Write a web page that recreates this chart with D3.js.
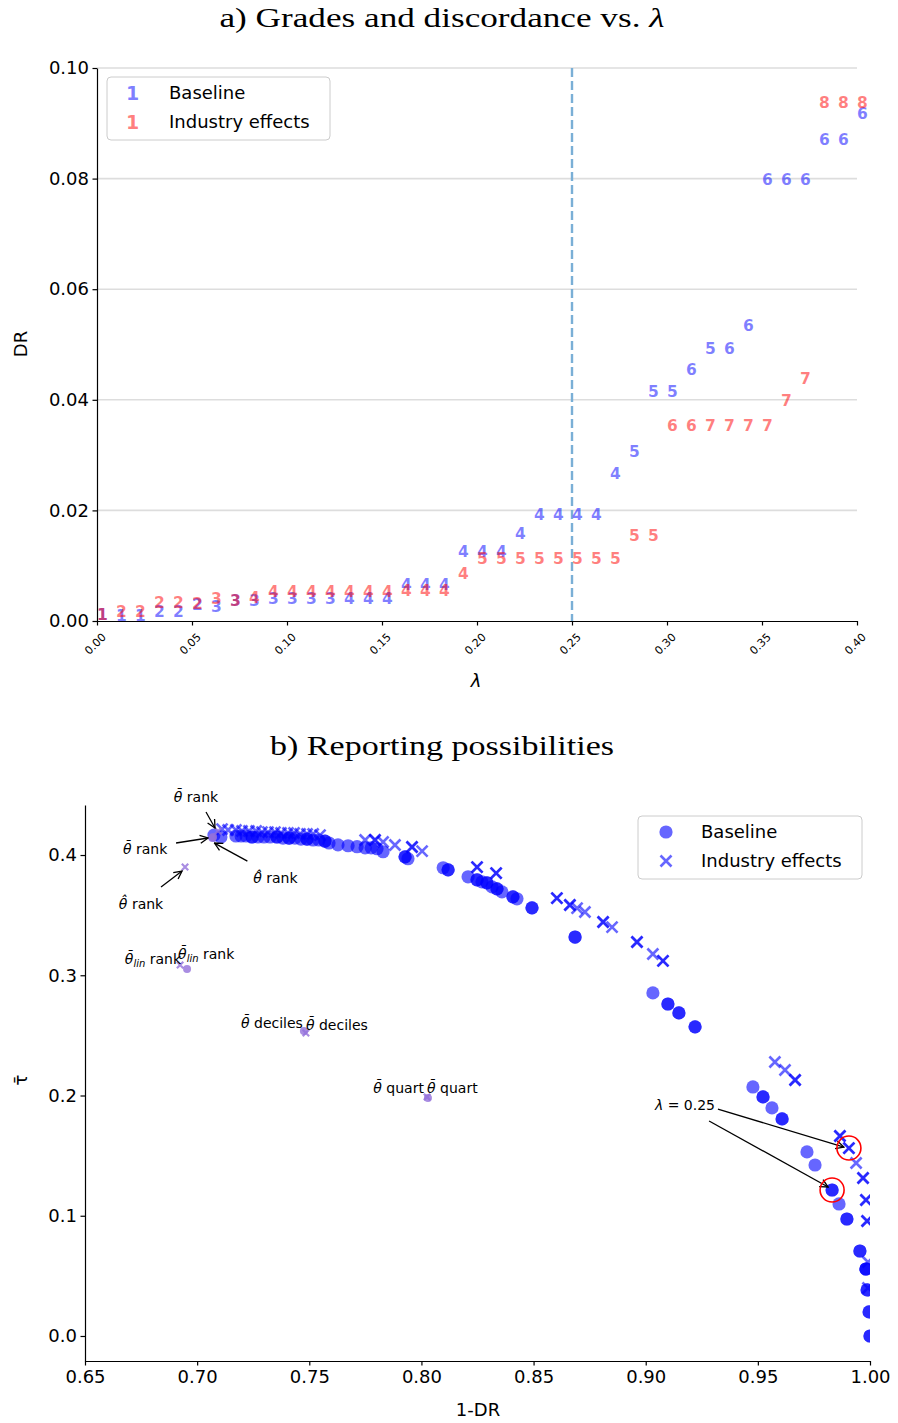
<!DOCTYPE html>
<html><head><meta charset="utf-8">
<script src="https://cdn.jsdelivr.net/npm/d3@7"></script>
<style>body{margin:0;background:#fff} svg text{font-family:"DejaVu Sans",sans-serif}</style>
</head><body><svg id="c" width="898" height="1423"></svg>
<script>
// ---------- Panel a data ----------
const lambdas = [0.00,0.01,0.02,0.03,0.04,0.05,0.06,0.07,0.08,0.09,0.10,0.11,0.12,0.13,0.14,0.15,0.16,0.17,0.18,0.19,0.20,
                 0.21,0.22,0.23,0.24,0.25,0.26,0.27,0.28,0.29,0.30,0.31,0.32,0.33,0.34,0.35,0.36,0.37,0.38,0.39,0.40];
const gradesBaseline = [1,1,1,2,2,2,3,3,3,3,3,3,3,4,4,4,4,4,4,4,4,4,4,4,4,4,4,4,5,5,5,6,5,6,6,6,6,6,6,6,6];
const drBaseline = [0.0012,0.0010,0.0010,0.0018,0.0018,0.0030,0.0027,0.0038,0.0038,0.0040,0.0040,0.0040,0.0040,0.0040,0.0040,0.0040,
                    0.0067,0.0067,0.0067,0.0126,0.0126,0.0126,0.0158,0.0192,0.0192,0.0192,0.0192,0.0266,0.0306,0.0415,0.0415,
                    0.0455,0.0493,0.0493,0.0535,0.0799,0.0799,0.0799,0.0870,0.0870,0.0917];
const gradesIndustry = [1,2,2,2,2,2,3,3,4,4,4,4,4,4,4,4,4,4,4,4,5,5,5,5,5,5,5,5,5,5,6,6,7,7,7,7,7,7,8,8,8];
const drIndustry = [0.0012,0.0018,0.0018,0.0033,0.0033,0.0031,0.0040,0.0038,0.0042,0.0054,0.0054,0.0054,0.0054,0.0054,0.0054,0.0054,
                    0.0056,0.0056,0.0056,0.0086,0.0113,0.0113,0.0113,0.0113,0.0113,0.0113,0.0113,0.0113,0.0154,0.0154,0.0354,
                    0.0354,0.0354,0.0354,0.0354,0.0354,0.0399,0.0439,0.0938,0.0938,0.0938];
const aXTicks = [0.00,0.05,0.10,0.15,0.20,0.25,0.30,0.35,0.40];
const aYTicks = [0.00,0.02,0.04,0.06,0.08,0.10];
const lambdaMarked = 0.25;
const seriesNames = ["Baseline","Industry effects"];

// ---------- Panel b data ----------
const baseX = [0.7075,0.7106,0.7173,0.7196,0.7218,0.7245,0.7245,0.7271,0.7298,0.7325,0.7356,0.7356,0.7383,0.7410,0.7410,0.7436,0.7463,0.7490,0.7490,
               0.7517,0.7543,0.7570,0.7570,0.7588,0.7628,0.7673,0.7713,0.7749,0.7776,0.7802,0.7829,0.7927,0.7927,0.7940,0.8097,0.8119,0.8119,
               0.8208,0.8248,0.8248,0.8270,0.8292,0.8292,0.8315,0.8337,0.8337,0.8359,0.8408,0.8408,0.8426,0.8493,0.8493,0.8685,0.8685,
               0.9032,0.9099,0.9099,0.9148,0.9148,0.9220,0.9220,0.9478,0.9523,0.9523,0.9563,0.9608,0.9608,0.9719,0.9755,0.9831,0.9831,
               0.9862,0.9897,0.9897,0.9955,0.9955,0.9982,0.9982,0.9982,0.9987,0.9987,0.9996,0.9996,1.0000,1.0000];
const baseY = [0.4166,0.4150,0.4158,0.4158,0.4158,0.4150,0.4150,0.4150,0.4150,0.4150,0.4150,0.4150,0.4141,0.4141,0.4141,0.4141,0.4133,0.4133,0.4133,
               0.4125,0.4125,0.4116,0.4116,0.4100,0.4085,0.4077,0.4069,0.4060,0.4060,0.4052,0.4027,0.3985,0.3985,0.3969,0.3894,0.3877,0.3877,
               0.3819,0.3794,0.3794,0.3777,0.3769,0.3769,0.3735,0.3719,0.3719,0.3694,0.3652,0.3652,0.3636,0.3561,0.3561,0.3318,0.3318,
               0.2853,0.2761,0.2761,0.2687,0.2687,0.2571,0.2571,0.2071,0.1988,0.1988,0.1897,0.1805,0.1805,0.1531,0.1422,0.1214,0.1214,
               0.1098,0.0973,0.0973,0.0707,0.0707,0.0557,0.0557,0.0557,0.0383,0.0383,0.0200,0.0200,0.0000,0.0000];
const indX = [0.7111,0.7138,0.7173,0.7200,0.7231,0.7263,0.7289,0.7316,0.7347,0.7374,0.7405,0.7432,0.7459,0.7490,0.7517,0.7548,
              0.7749,0.7793,0.7793,0.7829,0.7882,0.7958,0.7958,0.8003,0.8248,0.8248,0.8333,0.8333,0.8604,0.8604,0.8662,0.8662,0.8694,0.8729,
              0.8810,0.8810,0.8850,0.8961,0.8961,0.9032,0.9077,0.9077,0.9576,0.9621,0.9666,0.9666,0.9866,0.9866,0.9906,0.9906,0.9938,
              0.9969,0.9969,0.9982,0.9982,0.9987,0.9987,0.9991,0.9991];
const indY = [0.4216,0.4208,0.4208,0.4200,0.4200,0.4200,0.4191,0.4191,0.4191,0.4183,0.4183,0.4183,0.4175,0.4175,0.4175,0.4166,
              0.4125,0.4125,0.4125,0.4108,0.4083,0.4067,0.4067,0.4033,0.3900,0.3900,0.3850,0.3850,0.3642,0.3642,0.3584,0.3584,0.3559,0.3526,
              0.3443,0.3443,0.3401,0.3277,0.3277,0.3177,0.3119,0.3119,0.2279,0.2212,0.2129,0.2129,0.1663,0.1663,0.1563,0.1563,0.1439,
              0.1314,0.1314,0.1131,0.1131,0.0956,0.0956,0.0615,0.0399];
// alternative reporting methods (label, baseline point, industry-effects point)
const altMethods = ["θ̄ rank","θ̂ rank","θ̄lin rank","θ̄ deciles","θ̄ quart"];
const altBaseX = [0.7071,0.7068,0.6955,0.7476,0.8029];
const altBaseY = [0.4150,0.4141,0.3052,0.2536,0.1979];
const altIndX  = [0.7093,0.6946,0.6924,0.7485,0.8025];
const altIndY  = [0.4200,0.3900,0.3085,0.2520,0.1988];
const highlightLabel = "λ = 0.25";
const highlightBase = [0.9831,0.1214];
const highlightInd = [0.9906,0.1563];
const bXTicks = [0.65,0.70,0.75,0.80,0.85,0.90,0.95,1.00];
const bYTicks = [0.0,0.1,0.2,0.3,0.4];

// ---------- drawing ----------
const svg = d3.select('#c');
const FS = 18;
const defs = svg.append('defs');
defs.append('marker').attr('id','arr').attr('viewBox','0 0 10 10').attr('refX',9).attr('refY',5)
  .attr('markerWidth',10).attr('markerHeight',10).attr('markerUnits','userSpaceOnUse').attr('orient','auto')
  .append('path').attr('d','M1,1 L9,5 L1,9').attr('fill','none').attr('stroke','#000').attr('stroke-width',1.3);
defs.append('clipPath').attr('id','clipb').append('rect').attr('x',85).attr('y',805).attr('width',785).attr('height',556);

function title(txt, sym, y, len){
  const t = svg.append('text').attr('x',442).attr('y',y).attr('text-anchor','middle')
    .style('font-family','"Liberation Serif","DejaVu Serif",serif').style('font-size','28px')
    .attr('textLength',len).attr('lengthAdjust','spacingAndGlyphs');
  t.append('tspan').text(txt);
  if(sym) t.append('tspan').style('font-style','italic').text(sym);
}
title('a) Grades and discordance vs. ','λ',27,445);
title('b) Reporting possibilities',null,755,344);

// ----- Panel a -----
const xa = d3.scaleLinear().domain([0,0.4]).range([97,857]);
const ya = d3.scaleLinear().domain([0,0.1]).range([621,68]);
const ga = svg.append('g');
ga.selectAll('line.grid').data(aYTicks.filter(d=>d>0)).join('line')
  .attr('x1',xa(0)).attr('x2',xa(0.4)).attr('y1',d=>ya(d)).attr('y2',d=>ya(d))
  .attr('stroke','#dddddd').attr('stroke-width',1.6);
ga.append('line').attr('x1',xa(lambdaMarked)).attr('x2',xa(lambdaMarked)).attr('y1',ya(0.1)).attr('y2',ya(0))
  .attr('stroke','#7aafd6').attr('stroke-width',2.4).attr('stroke-dasharray','9,4');

const axLa = ga.append('g').attr('transform',`translate(${xa(0)},0)`)
  .call(d3.axisLeft(ya).tickValues(aYTicks).tickFormat(d3.format('.2f')).tickSize(4.5).tickSizeOuter(0));
axLa.selectAll('text').style('font-size',FS+'px').attr('x',-8);
const axBa = ga.append('g').attr('transform',`translate(0,${ya(0)})`)
  .call(d3.axisBottom(xa).tickValues(aXTicks).tickFormat(d3.format('.2f')).tickSize(4.5).tickSizeOuter(0));
axBa.selectAll('text').style('font-size','11px').attr('y',0).attr('dy',0)
  .attr('text-anchor','middle').attr('dominant-baseline','central')
  .attr('transform','translate(-2,23) rotate(-45)');
[axLa,axBa].forEach(a=>{a.selectAll('path,line').attr('stroke','#000').attr('stroke-width',1.2);});

function gradeText(g, grades, drs, col){
  g.selectAll(null).data(lambdas.map((l,i)=>({l, g:grades[i], d:drs[i]}))).join('text')
    .attr('x',d=>xa(d.l)).attr('y',d=>ya(d.d)).attr('dy','0.36em')
    .style('font-size','15.5px').style('font-weight','bold').attr('fill',col).attr('fill-opacity',0.5)
    .text(d=>d.g);
}
gradeText(ga, gradesBaseline, drBaseline, 'blue');
gradeText(ga, gradesIndustry, drIndustry, 'red');

// legend a
const la = svg.append('g');
la.append('rect').attr('x',107).attr('y',77).attr('width',223).attr('height',63).attr('rx',4)
  .attr('fill','#fff').attr('fill-opacity',0.8).attr('stroke','#cccccc');
[['blue',93],['red',122]].forEach(([c,y],i)=>{
  la.append('text').attr('x',126).attr('y',y).attr('dy','0.36em').style('font-size','19px').style('font-weight','bold')
    .attr('fill',c).attr('fill-opacity',0.5).text('1');
  la.append('text').attr('x',169).attr('y',y).attr('dy','0.36em').style('font-size',FS+'px').text(seriesNames[i]);
});
svg.append('text').attr('x',476).attr('y',687).attr('text-anchor','middle').style('font-size',FS+'px').style('font-style','italic').text('λ');
svg.append('text').attr('transform','translate(27,344) rotate(-90)').attr('text-anchor','middle').style('font-size',FS+'px').text('DR');

// ----- Panel b -----
const xb = d3.scaleLinear().domain([0.65,1.0]).range([85,870]);
const yb = d3.scaleLinear().domain([-0.0208,0.4416]).range([1361,805]);
const gb = svg.append('g');
const axLb = gb.append('g').attr('transform',`translate(${xb(0.65)},0)`)
  .call(d3.axisLeft(yb).tickValues(bYTicks).tickFormat(d3.format('.1f')).tickSize(4.5).tickSizeOuter(0));
axLb.selectAll('text').style('font-size',FS+'px').attr('x',-8);
const axBb = gb.append('g').attr('transform',`translate(0,${yb(-0.0208)})`)
  .call(d3.axisBottom(xb).tickValues(bXTicks).tickFormat(d3.format('.2f')).tickSize(4.5).tickSizeOuter(0));
axBb.selectAll('text').style('font-size',FS+'px').attr('y',9);
[axLb,axBb].forEach(a=>{a.selectAll('path,line').attr('stroke','#000').attr('stroke-width',1.2);});

const pts = gb.append('g').attr('clip-path','url(#clipb)');
const xPath = s => `M${-s},${-s}L${s},${s}M${-s},${s}L${s},${-s}`;
pts.selectAll('circle.b').data(baseX.map((x,i)=>[x,baseY[i]])).join('circle')
  .attr('cx',d=>xb(d[0])).attr('cy',d=>yb(d[1])).attr('r',6.6).attr('fill','blue').attr('fill-opacity',0.6);
pts.selectAll('path.i').data(indX.map((x,i)=>[x,indY[i]])).join('path')
  .attr('transform',d=>`translate(${xb(d[0])},${yb(d[1])})`).attr('d',xPath(5.5))
  .attr('stroke','blue').attr('stroke-opacity',0.6).attr('stroke-width',2.6).attr('fill','none');
pts.selectAll('circle.ab').data(altBaseX.map((x,i)=>[x,altBaseY[i]])).join('circle')
  .attr('cx',d=>xb(d[0])).attr('cy',d=>yb(d[1])).attr('r',4).attr('fill','#9370db').attr('fill-opacity',0.8);
pts.selectAll('path.ai').data(altIndX.map((x,i)=>[x,altIndY[i]])).join('path')
  .attr('transform',d=>`translate(${xb(d[0])},${yb(d[1])})`).attr('d',xPath(3.2))
  .attr('stroke','#9370db').attr('stroke-opacity',0.8).attr('stroke-width',2.2).attr('fill','none');

// annotation layout (pixel offsets from the annotated point)
const annLayout = [
  {m:0, s:'ind',  anchor:'middle', t:[-22,-29], a:[[-12,-19],[-3,-3]]},
  {m:0, s:'base', anchor:'middle', t:[-68,17],  a:[[-37,6],[-5,1]]},
  {m:1, s:'base', anchor:'middle', t:[63,45],   a:[[35,23],[2,5]]},
  {m:1, s:'ind',  anchor:'middle', t:[-44,42],  a:[[-24,20],[-3,4]]},
  {m:2, s:'ind',  anchor:'end',    t:[1,-1]},
  {m:2, s:'base', anchor:'start',  t:[-9,-10]},
  {m:3, s:'base', anchor:'end',    t:[-1,-3]},
  {m:3, s:'ind',  anchor:'start',  t:[0,-3]},
  {m:4, s:'base', anchor:'end',    t:[-4,-5]},
  {m:4, s:'ind',  anchor:'start',  t:[0,-4]},
];
const ann = svg.append('g');
function methodText(sel, label){
  const m = label.match(/^(θ)(\u0304|\u0302)(lin)?(.*)$/);
  sel.append('tspan').style('font-style','italic').text(m[1]+m[2]);
  if(m[3]) sel.append('tspan').style('font-style','italic').style('font-size','10px').attr('dy',3).text(m[3]);
  sel.append('tspan').attr('dy', m[3]? -3:0).text(m[4]);
}
annLayout.forEach(o=>{
  const px = o.s==='base' ? xb(altBaseX[o.m]) : xb(altIndX[o.m]);
  const py = o.s==='base' ? yb(altBaseY[o.m]) : yb(altIndY[o.m]);
  const t = ann.append('text').attr('x',px+o.t[0]).attr('y',py+o.t[1]).attr('text-anchor',o.anchor).style('font-size','14px');
  methodText(t, altMethods[o.m]);
  if(o.a) ann.append('line').attr('x1',px+o.a[0][0]).attr('y1',py+o.a[0][1]).attr('x2',px+o.a[1][0]).attr('y2',py+o.a[1][1])
    .attr('stroke','#000').attr('stroke-width',1.3).attr('marker-end','url(#arr)');
});
// lambda = 0.25 highlight
const hiX = xb(highlightInd[0]), hiY = yb(highlightInd[1]);
const hbX = xb(highlightBase[0]), hbY = yb(highlightBase[1]);
const ht = ann.append('text').attr('x',hiX-194).attr('y',hiY-38).style('font-size','14px');
ht.append('tspan').style('font-style','italic').text(highlightLabel.slice(0,1));
ht.append('tspan').text(highlightLabel.slice(1));
ann.append('line').attr('x1',hiX-131).attr('y1',hiY-39).attr('x2',hiX-5).attr('y2',hiY-1)
  .attr('stroke','#000').attr('stroke-width',1.3).attr('marker-end','url(#arr)');
ann.append('line').attr('x1',hbX-123).attr('y1',hbY-69).attr('x2',hbX-4).attr('y2',hbY-3)
  .attr('stroke','#000').attr('stroke-width',1.3).attr('marker-end','url(#arr)');
[[hiX,hiY],[hbX,hbY]].forEach(([x,y])=>ann.append('circle').attr('cx',x).attr('cy',y).attr('r',12)
  .attr('fill','none').attr('stroke','red').attr('stroke-width',1.6));

// legend b
const lb = svg.append('g');
lb.append('rect').attr('x',638).attr('y',816).attr('width',224).attr('height',63).attr('rx',4)
  .attr('fill','#fff').attr('fill-opacity',0.8).attr('stroke','#cccccc');
lb.append('circle').attr('cx',666).attr('cy',832).attr('r',6.6).attr('fill','blue').attr('fill-opacity',0.6);
lb.append('path').attr('transform','translate(666,861)').attr('d',xPath(5.5)).attr('stroke','blue').attr('stroke-opacity',0.6).attr('stroke-width',2.6);
lb.append('text').attr('x',701).attr('y',832).attr('dy','0.36em').style('font-size',FS+'px').text(seriesNames[0]);
lb.append('text').attr('x',701).attr('y',861).attr('dy','0.36em').style('font-size',FS+'px').text(seriesNames[1]);
svg.append('text').attr('x',478).attr('y',1416).attr('text-anchor','middle').style('font-size',FS+'px').text('1-DR');
svg.append('text').attr('transform','translate(27,1080) rotate(-90)').attr('text-anchor','middle').style('font-size',FS+'px').text('τ̄');
</script></body></html>
